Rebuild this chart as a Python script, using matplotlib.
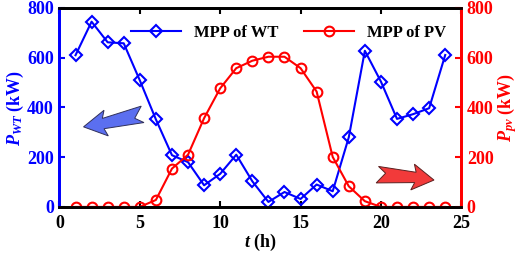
import matplotlib
matplotlib.use('Agg')
from matplotlib import pyplot as plt
from matplotlib.patches import Polygon
import numpy as np

plt.rcParams['font.family'] = ['Liberation Serif', 'DejaVu Serif']
plt.rcParams['font.weight'] = 'bold'
plt.rcParams['axes.labelweight'] = 'bold'
plt.rcParams['mathtext.fontset'] = 'custom'
plt.rcParams['mathtext.it'] = 'Liberation Serif:italic:bold'
plt.rcParams['mathtext.rm'] = 'Liberation Serif:bold'

hours = list(range(1, 25))
wt = [610, 745, 662, 658, 509, 352, 208, 180, 87, 133, 210, 103,
      20, 60, 32, 90, 63, 280, 628, 504, 354, 373, 397, 611]
pv = [0, 0, 0, 0, 0, 28, 154, 210, 357, 477, 558, 588,
      604, 604, 558, 464, 201, 83, 23, 0, 0, 0, 0, 0]

fig = plt.figure(figsize=(5.26, 2.58), dpi=100)
ax = fig.add_axes([0.113, 0.198, 0.764, 0.771])
ax2 = ax.twinx()

l1, = ax.plot(hours, wt, color='blue', marker='D', markersize=6, mfc='none',
              mew=1.5, lw=1.5, label='MPP of WT', zorder=3)
l2, = ax2.plot(hours, pv, color='red', marker='o', markersize=7, mfc='none',
               mew=1.5, lw=1.5, label='MPP of PV')

ax.set_xlim(0, 25)
ax.set_ylim(0, 800)
ax2.set_ylim(0, 800)
ax.set_xticks([0, 5, 10, 15, 20, 25])
ax.set_yticks([0, 200, 400, 600, 800])
ax2.set_yticks([0, 200, 400, 600, 800])

ax.tick_params(axis='x', direction='in', top=True, length=4, width=1.5,
               labelsize=13, pad=6)
ax.tick_params(axis='y', direction='in', colors='blue', length=4, width=1.5,
               labelsize=13, pad=4)
ax2.tick_params(axis='y', direction='in', colors='red', length=4, width=1.5,
                labelsize=13, pad=4)

for a in (ax, ax2):
    for s in a.spines.values():
        s.set_linewidth(2)
    a.spines['left'].set_color('blue')
    a.spines['right'].set_color('red')

ax.set_xlabel(r'$t$ (h)', fontsize=13, labelpad=0)
ax.set_ylabel(r'$P_{WT}$ (kW)', fontsize=13, color='blue', labelpad=1)
ax2.set_ylabel(r'$P_{pv}$ (kW)', fontsize=13, color='red', labelpad=1)

ax.legend([l1, l2], ['MPP of WT', 'MPP of PV'], loc='upper center', ncol=2,
          frameon=False, fontsize=12, bbox_to_anchor=(0.57, 0.99),
          handlelength=3, columnspacing=1.5)


def block_arrow(a, tail, tip, height, fc, ec):
    # swallow-tail block arrow, shape built in pixel space then mapped to data
    t = a.transData.transform(tail)
    p = a.transData.transform(tip)
    u = (t - p) / np.hypot(*(t - p))
    n = np.array([-u[1], u[0]])
    L = np.hypot(*(t - p))
    h = height
    shape = [(0, 0), (0.38, 0.5), (0.33, 0.2), (1.0, 0.42),
             (0.86, 0.0), (1.0, -0.22), (0.33, -0.2), (0.38, -0.5)]
    pts = [p + u * s * L + n * w * h for s, w in shape]
    pts = a.transData.inverted().transform(pts)
    a.add_patch(Polygon(pts, closed=True, fc=fc, ec=ec, lw=0.7, zorder=2))


block_arrow(ax, (5.2, 362), (1.5, 322), 26, '#5b6ff0', '#30305a')
block_arrow(ax2, (19.8, 140), (23.3, 108), 26, '#f23a3a', '#5a2020')

plt.savefig('out.png', dpi=100)
